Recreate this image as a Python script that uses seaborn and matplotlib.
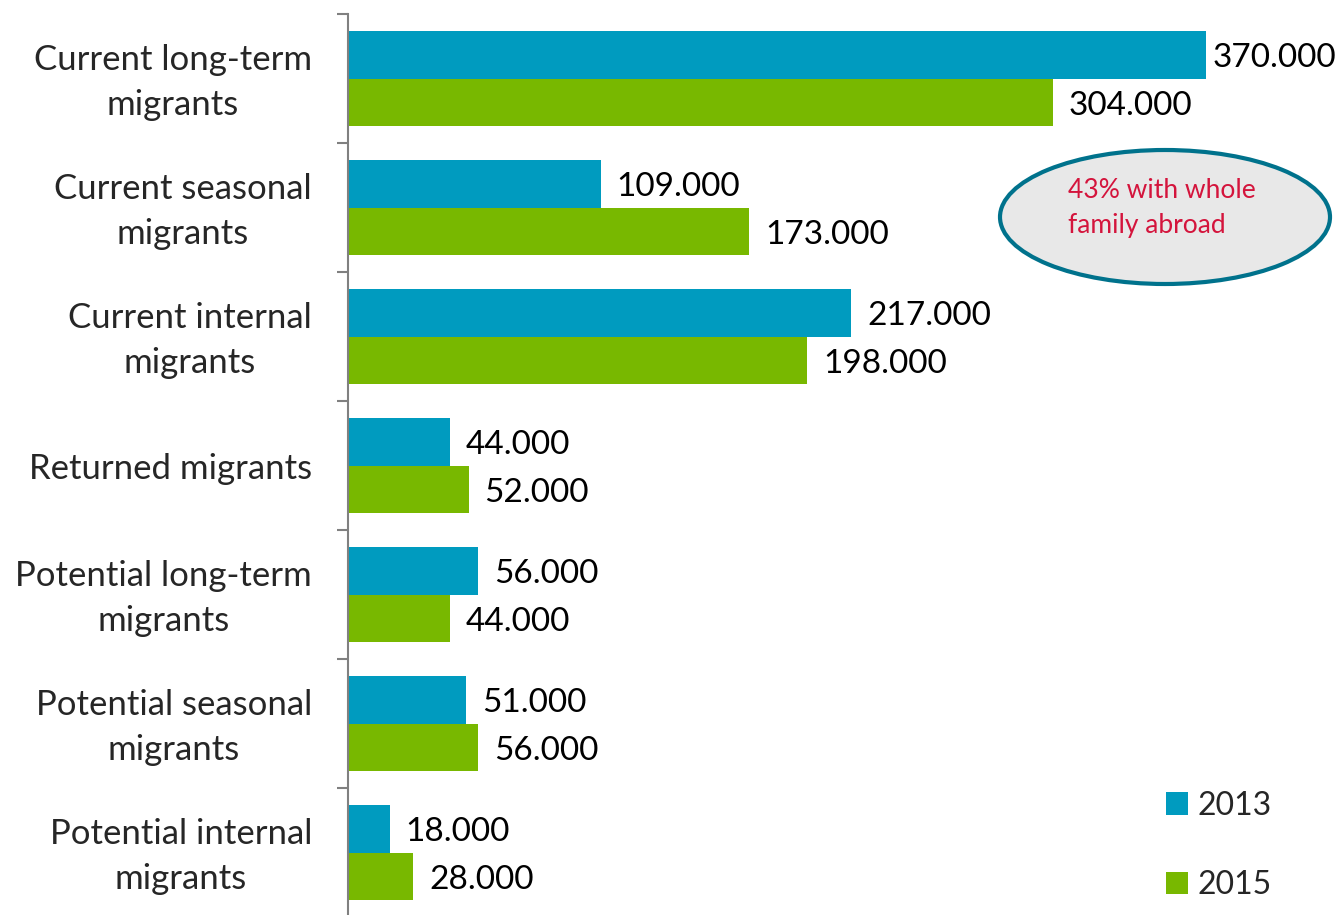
import matplotlib
matplotlib.use("Agg")
import matplotlib.pyplot as plt
import matplotlib.transforms as mtrans
import seaborn as sns
import pandas as pd
from matplotlib.patches import Ellipse, Patch

categories = ["Current long-term\nmigrants", "Current seasonal\nmigrants", "Current internal\nmigrants",
              "Returned migrants", "Potential long-term\nmigrants", "Potential seasonal\nmigrants",
              "Potential internal\nmigrants"]
years = ["2013", "2015"]
values_2013 = [370000, 109000, 217000, 44000, 56000, 51000, 18000]
values_2015 = [304000, 173000, 198000, 52000, 44000, 56000, 28000]
colors = {"2013": "#009BBF", "2015": "#78B800"}
annotation = "43% with whole\nfamily abroad"

df = pd.DataFrame({
    "category": categories * 2,
    "year": ["2013"] * len(categories) + ["2015"] * len(categories),
    "value": values_2013 + values_2015,
})

sns.set_theme(style="white")
plt.rcParams["font.family"] = ["Lato", "DejaVu Sans"]

W, H = 1340, 915
fig = plt.figure(figsize=(W / 100, H / 100), dpi=100)
ax = fig.add_axes([348 / W, (H - 917) / H, (W - 348) / W, (917 - 14) / H])

sns.barplot(data=df, y="category", x="value", hue="year", order=categories, hue_order=years,
            palette=colors, orient="h", width=0.744, saturation=1, ax=ax, legend=False,
            linewidth=0)

ax.set_xlim(0, 992 / (858 / 370000))
ax.set_ylim(len(categories) - 0.5, -0.5)
ax.set_xlabel("")
ax.set_ylabel("")
ax.set_xticks([])
for s in ["top", "right", "bottom"]:
    ax.spines[s].set_visible(False)
ax.spines["left"].set_color("#808080")
ax.spines["left"].set_linewidth(1.5)

ax.set_yticks(range(len(categories)))
ax.set_yticklabels(categories, fontsize=25, multialignment="center", linespacing=1.5)
ax.tick_params(axis="y", which="major", left=True, length=0, pad=26)
ax.set_yticks([i - 0.5 for i in range(len(categories) + 1)], minor=True)
ax.tick_params(axis="y", which="minor", left=True, length=8, width=1.5, color="#808080",
               direction="out")
shift_up = mtrans.ScaledTranslation(0, 6 / 100, fig.dpi_scale_trans)
for lab in ax.get_yticklabels():
    if "\n" in lab.get_text():
        lab.set_transform(lab.get_transform() + shift_up)

xmax = ax.get_xlim()[1]
for cont in ax.containers:
    labels = [f"{int(v):,}".replace(",", ".") for v in cont.datavalues]
    anns = ax.bar_label(cont, labels=labels, padding=11.5, fontsize=24, color="black")
    for ann, v in zip(anns, cont.datavalues):
        if v > 0.85 * xmax:
            ann.xyann = (5, -2.5)
        else:
            ann.xyann = (11.5, -2.5)

# ellipse annotation
ell = Ellipse((1165 / W, (H - 217) / H), 330 / W, 134 / H, transform=fig.transFigure,
              facecolor="#E8E8E8", edgecolor="#00728C", linewidth=3, zorder=5)
fig.add_artist(ell)
fig.text(1068 / W, (H - 208) / H, annotation, fontsize=19, color="#D4143C", ha="left", va="center",
         linespacing=1.5, zorder=6)

handles = [Patch(facecolor=colors[y], edgecolor="none") for y in years]
leg = fig.legend(handles, years, loc="lower left", bbox_to_anchor=(1150 / W, (H - 916) / H),
                 frameon=False, fontsize=23, handlelength=0.7, handleheight=0.7,
                 handletextpad=0.3, labelspacing=1.55, borderpad=0)

fig.savefig("out.png", dpi=100)
